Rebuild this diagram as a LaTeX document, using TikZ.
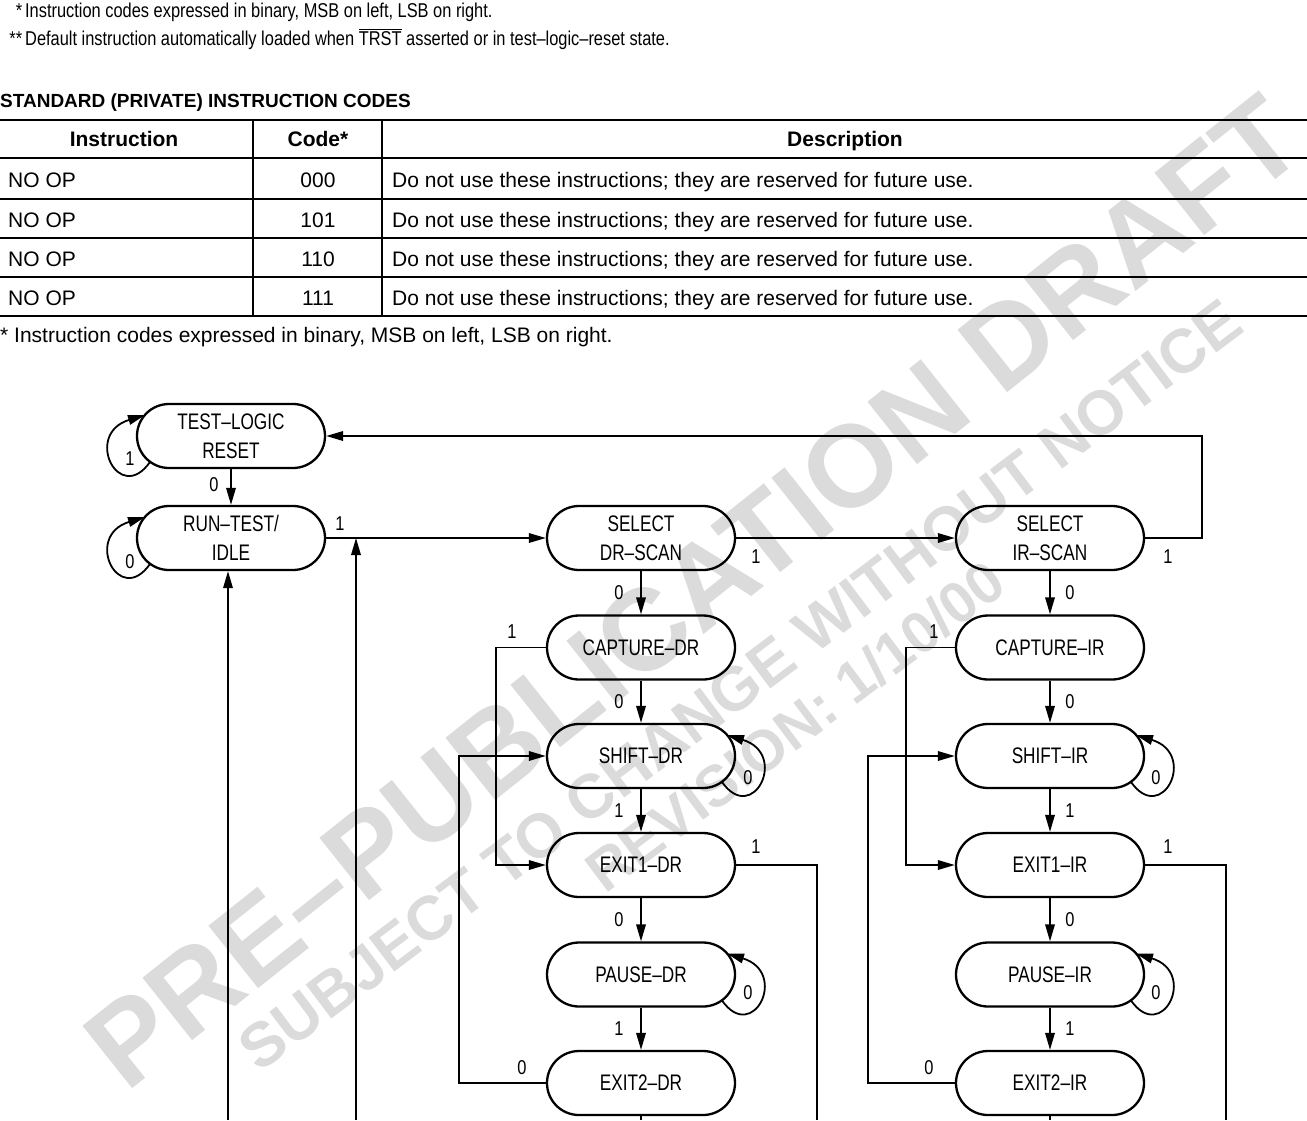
\documentclass[tikz,border=0pt]{standalone}
\usepackage{fontspec}
\setmainfont{Liberation Sans}
\newfontfamily\nfont[FakeStretch=0.82]{Liberation Sans}
\newfontfamily\sfont[FakeStretch=0.765]{Liberation Sans}
\usetikzlibrary{arrows.meta,calc}
\begin{document}
\begin{tikzpicture}[x=1pt,y=-1pt,
  stadium/.style={draw, line width=2.3pt, rounded corners=32pt, minimum width=188pt, minimum height=64pt, inner sep=0pt, align=center, font=\sfont\fontsize{22.5}{28.5}\selectfont},
  wire/.style={line width=1.8pt},
  arr/.style={wire, -{Triangle[length=17pt,width=9.5pt]}},
  lbl/.style={font=\nfont\fontsize{20}{24}\selectfont, inner sep=0pt},
  wm/.style={text=black!14, inner sep=0pt},
  tline/.style={line width=2.4pt},
  vline/.style={line width=1.8pt},
  tcell/.style={anchor=base, font=\fontsize{21}{25}\selectfont, inner sep=0pt},
  thead/.style={anchor=base, font=\bfseries\fontsize{21}{25}\selectfont, inner sep=0pt},
  note/.style={anchor=base west, inner sep=0pt, font=\nfont\fontsize{20}{24}\selectfont},
]
\fill[white] (0,0) rectangle (1307,1120);
\useasboundingbox (0,0) rectangle (1307,1120);

% watermark
\node[wm, rotate=38.5, font=\bfseries\fontsize{116}{118}\selectfont] (wm1) at (693,592) {PRE–PUBLICATION DRAFT};
\node[wm, rotate=37, font=\bfseries\fontsize{62}{64}\selectfont] (wm2) at (740,685) {SUBJECT TO CHANGE WITHOUT NOTICE};
\node[wm, rotate=37, font=\bfseries\fontsize{58}{60}\selectfont] (wm3) at (795,726) {REVISION: 1/10/00};

% top notes
\node[note] (fn1) at (25,17) {\llap{*\hspace{3pt}}Instruction codes expressed in binary, MSB on left, LSB on right.};
\node[note] (fn2) at (25,45) {\llap{**\hspace{3pt}}Default instruction automatically loaded when $\overline{\mbox{TRST}}$ asserted or in test–logic–reset state.};
\node[anchor=base west, inner sep=0pt, font=\bfseries\fontsize{19}{23}\selectfont] (title) at (0,107) {STANDARD (PRIVATE) INSTRUCTION CODES};

% table
\foreach \yy in {120,158,199,238,277,316} \draw[tline] (0,\yy) -- (1307,\yy);
\draw[vline] (253,120) -- (253,316);
\draw[vline] (382,120) -- (382,316);
\node[thead] (h1) at (124,146.5) {Instruction};
\node[thead] (h2) at (318,146.5) {Code*};
\node[thead] (h3) at (845,146.5) {Description};
\foreach \yy/\cc [count=\i] in {187/000,227/101,266/110,305/111}{
  \node[tcell, anchor=base west] (ins\i) at (8,\yy) {NO OP};
  \node[tcell] (code\i) at (318,\yy) {\cc};
  \node[tcell, anchor=base west] (desc\i) at (392,\yy) {Do not use these instructions; they are reserved for future use.};
}
\node[tcell, anchor=base west] (fn3) at (0,342.5) {* Instruction codes expressed in binary, MSB on left, LSB on right.};

% states
\node[stadium] (tlr) at (231,436) {TEST–LOGIC\\RESET};
\node[stadium] (rti) at (231,538) {RUN–TEST/\\IDLE};
\node[stadium] (sdr) at (641,538) {SELECT\\DR–SCAN};
\node[stadium] (cdr) at (641,647.5) {CAPTURE–DR};
\node[stadium] (shdr) at (641,756) {SHIFT–DR};
\node[stadium] (e1dr) at (641,865) {EXIT1–DR};
\node[stadium] (pdr) at (641,974.5) {PAUSE–DR};
\node[stadium] (e2dr) at (641,1083) {EXIT2–DR};
\node[stadium] (sir) at (1050,538) {SELECT\\IR–SCAN};
\node[stadium] (cir) at (1050,647.5) {CAPTURE–IR};
\node[stadium] (shir) at (1050,756) {SHIFT–IR};
\node[stadium] (e1ir) at (1050,865) {EXIT1–IR};
\node[stadium] (pir) at (1050,974.5) {PAUSE–IR};
\node[stadium] (e2ir) at (1050,1083) {EXIT2–IR};

% free ends
\coordinate (b1) at (228,1120);
\coordinate (b2) at (356,1120);
\coordinate (b3) at (817,1120);
\coordinate (b4) at (641,1120);
\coordinate (b5) at (1226,1120);
\coordinate (b6) at (1050,1120);
\coordinate (ctop) at (1202,436);

% self loops
\foreach \n in {tlr,rti}
  \draw[arr] ($(\n)+(-81,26)$) .. controls ($(\n)+(-112,70)$) and ($(\n)+(-148,-2)$) .. ($(\n)+(-86,-21)$);
\foreach \n in {shdr,pdr,shir,pir}
  \draw[arr] ($(\n)+(81,26)$) .. controls ($(\n)+(112,70)$) and ($(\n)+(148,-2)$) .. ($(\n)+(86,-21)$);

% transitions
\draw[arr] (tlr) -- (rti);
\draw[arr] (rti) -- (sdr);
\draw[arr] (sdr) -- (sir);
\draw[arr] (sir.east) -| (ctop) -- (tlr.east);
\draw[arr] (b1) -- (b1 |- rti.south);
\draw[arr] (b2) -- (b2 |- rti.east);

\draw[arr] (sdr) -- (cdr);
\draw[arr] (cdr) -- (shdr);
\draw[arr] (shdr) -- (e1dr);
\draw[arr] (e1dr) -- (pdr);
\draw[arr] (pdr) -- (e2dr);
\draw[arr] (cdr.west) -- ++(-50,0) |- (e1dr.west);
\draw[arr] (e2dr.west) -- ++(-87,0) |- (shdr.west);
\draw[wire] (e1dr.east) -| (b3);
\draw[wire] (e2dr.south) -- (b4);

\draw[arr] (sir) -- (cir);
\draw[arr] (cir) -- (shir);
\draw[arr] (shir) -- (e1ir);
\draw[arr] (e1ir) -- (pir);
\draw[arr] (pir) -- (e2ir);
\draw[arr] (cir.west) -- ++(-49,0) |- (e1ir.west);
\draw[arr] (e2ir.west) -- ++(-87,0) |- (shir.west);
\draw[wire] (e1ir.east) -| (b5);
\draw[wire] (e2ir.south) -- (b6);

% labels
\node[lbl] (la1) at (130,459) {1};
\node[lbl] (la2) at (130,562) {0};
\node[lbl] (la3) at (214,485) {0};
\node[lbl] (la4) at (340,524) {1};
\node[lbl] (la5) at (756,557) {1};
\node[lbl] (la6) at (1168,557) {1};
\node[lbl] (ld1) at (619,593) {0};
\node[lbl] (ld2) at (619,702) {0};
\node[lbl] (ld3) at (619,811) {1};
\node[lbl] (ld4) at (619,920) {0};
\node[lbl] (ld5) at (619,1029) {1};
\node[lbl] (ld6) at (512,632) {1};
\node[lbl] (ld7) at (522,1068) {0};
\node[lbl] (ld8) at (756,847) {1};
\node[lbl] (ld9) at (748,778) {0};
\node[lbl] (ld10) at (748,993) {0};
\node[lbl] (li1) at (1070,593) {0};
\node[lbl] (li2) at (1070,702) {0};
\node[lbl] (li3) at (1070,811) {1};
\node[lbl] (li4) at (1070,920) {0};
\node[lbl] (li5) at (1070,1029) {1};
\node[lbl] (li6) at (934,632) {1};
\node[lbl] (li7) at (929,1068) {0};
\node[lbl] (li8) at (1168,847) {1};
\node[lbl] (li9) at (1156,778) {0};
\node[lbl] (li10) at (1156,993) {0};
\end{tikzpicture}
\end{document}
